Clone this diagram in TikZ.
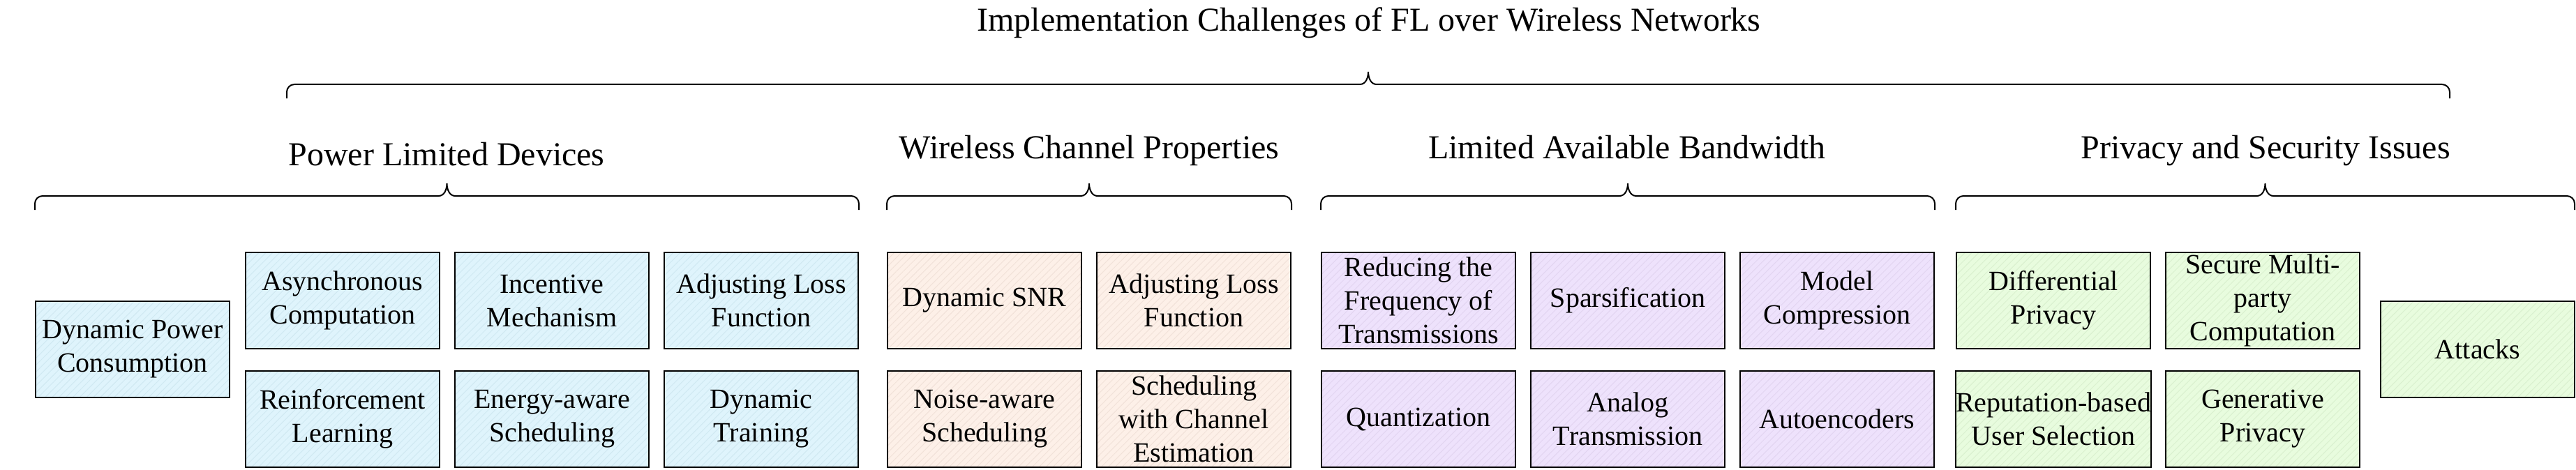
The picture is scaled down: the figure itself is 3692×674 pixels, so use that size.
\documentclass[tikz,border=0pt]{standalone}
\usepackage{fontspec}
\setmainfont{Liberation Serif}
\usetikzlibrary{patterns.meta}

\definecolor{powerfill}{HTML}{DFF4FC}
\definecolor{powerline}{HTML}{D0E9F2}
\definecolor{channelfill}{HTML}{FDF0E8}
\definecolor{channelline}{HTML}{F1E2D9}
\definecolor{bandfill}{HTML}{EEE2FC}
\definecolor{bandline}{HTML}{E2D5F1}
\definecolor{privfill}{HTML}{E8FCDE}
\definecolor{privline}{HTML}{DAF0CF}

\tikzset{
  box/.style={draw,line width=1.1pt,minimum width=139pt,minimum height=69pt,
    align=center,inner xsep=0pt,inner ysep=1pt,font=\fontsize{20}{24}\selectfont,
    pattern={Lines[angle=45,distance=3.5pt,line width=0.5pt]}},
  powerbox/.style={box,preaction={fill=powerfill},pattern color=powerline},
  channelbox/.style={box,preaction={fill=channelfill},pattern color=channelline},
  bandbox/.style={box,preaction={fill=bandfill},pattern color=bandline},
  privbox/.style={box,preaction={fill=privfill},pattern color=privline},
  head/.style={anchor=base,inner sep=0pt,font=\fontsize{24}{29}\selectfont},
  grp/.style={line width=1pt}
}

% brace from x #1 to x #2, ends at y #3
\newcommand\grpbrace[3]{%
  \pgfmathsetmacro\bracemid{(#1+#2)/2}
  \draw[grp] (#1,#3) -- (#1,#3-9) to[out=90,in=180] (#1+11,#3-20)
    -- (\bracemid-12,#3-20) to[out=0,in=-90] (\bracemid,#3-38)
    to[out=-90,in=180] (\bracemid+12,#3-20)
    -- (#2-11,#3-20) to[out=0,in=90] (#2,#3-9) -- (#2,#3);
}

\begin{document}
\begin{tikzpicture}[x=0.5pt,y=-0.5pt]
    \useasboundingbox (0,0) rectangle (3692,674);

      \begin{scope}[every node/.style={head}]
        \node (title)   at (1962,45)  {Implementation Challenges of FL over Wireless Networks};
        \node (power)   at (640,237)  {Power Limited Devices};
        \node (channel) at (1561,227) {Wireless Channel Properties};
        \node (band)    at (2332,227) {Limited Available Bandwidth};
        \node (privacy) at (3247,227) {Privacy and Security Issues};
      \end{scope}

      \grpbrace{411}{3511}{141}
      \grpbrace{50}{1231}{301}
      \grpbrace{1271}{1851}{301}
      \grpbrace{1893}{2773}{301}
      \grpbrace{2803}{3690}{301}

      \begin{scope}[every node/.style={powerbox}]
        \node (dpc)       at (190,501)  {Dynamic Power\\Consumption};
        \node (async)     at (491,431)  {Asynchronous\\Computation};
        \node (rl)        at (491,601)  {Reinforcement\\Learning};
        \node (incentive) at (791,431)  {Incentive\\Mechanism};
        \node (energy)    at (791,601)  {Energy-aware\\Scheduling};
        \node (adjloss)   at (1091,431) {Adjusting Loss\\Function};
        \node (dyntrain)  at (1091,601) {Dynamic\\Training};
      \end{scope}

      \begin{scope}[every node/.style={channelbox}]
        \node (snr)    at (1411,431) {Dynamic SNR};
        \node (chloss) at (1711,431) {Adjusting Loss\\Function};
        \node (noise)  at (1411,601) {Noise-aware\\Scheduling};
        \node (chest)  at (1711,601) {Scheduling\\with Channel\\Estimation};
      \end{scope}

      \begin{scope}[every node/.style={bandbox}]
        \node (reduce)   at (2033,431) {Reducing the\\Frequency of\\Transmissions};
        \node (sparse)   at (2333,431) {Sparsification};
        \node (compress) at (2633,431) {Model\\Compression};
        \node (quant)    at (2033,601) {Quantization};
        \node (analog)   at (2333,601) {Analog\\Transmission};
        \node (autoenc)  at (2633,601) {Autoencoders};
      \end{scope}

      \begin{scope}[every node/.style={privbox}]
        \node (dp)      at (2943,431) {Differential\\Privacy};
        \node (smpc)    at (3243,431) {Secure Multi-\\party\\Computation};
        \node (reput)   at (2943,601) {Reputation-based\\User Selection};
        \node (genpriv) at (3243,601) {Generative\\Privacy};
        \node (attacks) at (3551,501) {Attacks};
      \end{scope}

    \end{tikzpicture}
\end{document}
